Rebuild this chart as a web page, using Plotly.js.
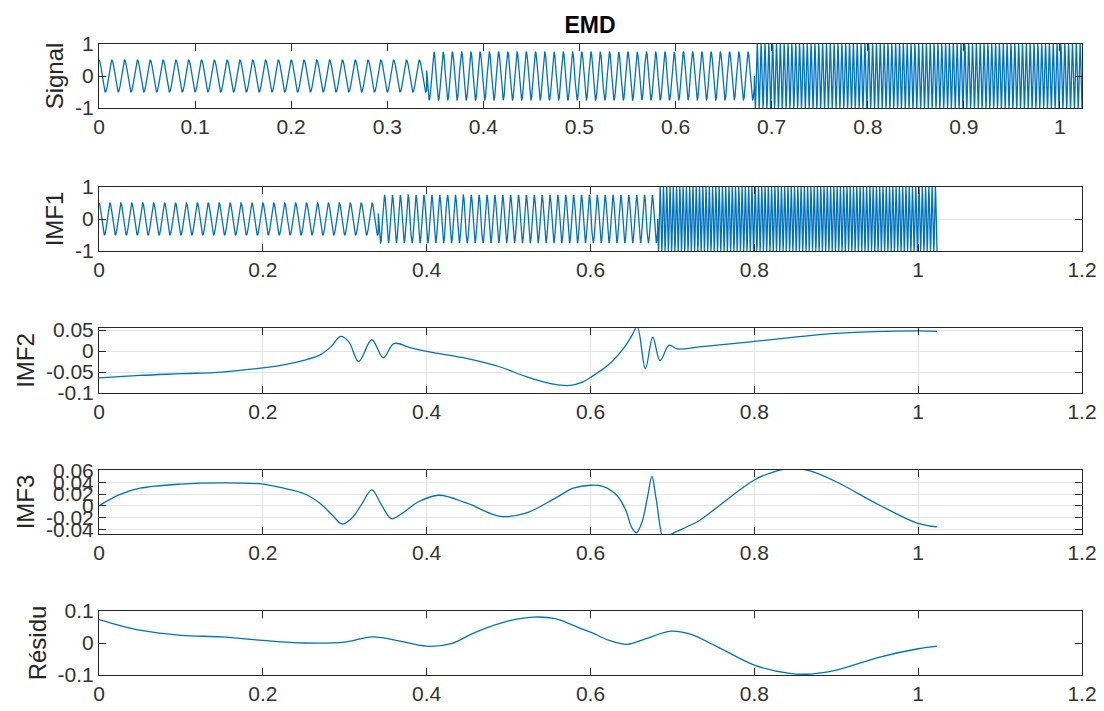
<!DOCTYPE html>
<html>
<head>
<meta charset="utf-8">
<script src="https://cdn.plot.ly/plotly-3.0.1.min.js"></script>
<style>html,body{margin:0;padding:0;background:#fff;}#chart{width:1104px;height:711px;}</style>
</head>
<body>
<div id="chart"></div>
<script>
// ---- Data ----
// Signal / IMF1: three tone segments (start time s, amplitude, frequency Hz, start phase deg)
const sampleRate = 10000;
const sampleCount = 10231;
const segStart = [0, 0.341, 0.682];
const segAmp = [0.5, 0.75, 1.0];
const segFreq = [75, 104, 250];
const segPhase = [90, 0, 0];

// IMF2 key points
const imf2X = [0, 0.05, 0.1, 0.15, 0.2, 0.225, 0.25, 0.27, 0.283, 0.295, 0.305, 0.317, 0.333, 0.347, 0.36, 0.38, 0.4, 0.45, 0.49, 0.52, 0.55, 0.575, 0.59, 0.6, 0.623, 0.641, 0.65, 0.657, 0.667, 0.676, 0.685, 0.696, 0.706, 0.733, 0.8, 0.9, 1.0, 1.023];
const imf2Y = [-0.064, -0.058, -0.054, -0.05, -0.04, -0.033, -0.022, -0.009, 0.01, 0.035, 0.022, -0.025, 0.027, -0.016, 0.018, 0.008, -0.001, -0.018, -0.038, -0.06, -0.077, -0.082, -0.074, -0.063, -0.031, 0.008, 0.035, 0.058, -0.042, 0.033, -0.023, 0.014, 0.005, 0.01, 0.023, 0.042, 0.048, 0.047];

// IMF3 key points
const imf3X = [0, 0.025, 0.05, 0.1, 0.15, 0.2, 0.225, 0.25, 0.27, 0.285, 0.297, 0.31, 0.32, 0.333, 0.345, 0.357, 0.37, 0.39, 0.415, 0.45, 0.49, 0.52, 0.557, 0.579, 0.6, 0.615, 0.632, 0.643, 0.65, 0.656, 0.663, 0.67, 0.675, 0.68, 0.69, 0.697, 0.711, 0.733, 0.755, 0.8, 0.824, 0.846, 0.869, 0.9, 0.953, 1.0, 1.023];
const imf3Y = [0.0, 0.019, 0.03, 0.037, 0.039, 0.037, 0.03, 0.021, 0.004, -0.016, -0.031, -0.019, 0.001, 0.027, 0.001, -0.022, -0.013, 0.007, 0.018, 0.004, -0.018, -0.013, 0.013, 0.03, 0.035, 0.033, 0.018, -0.007, -0.036, -0.046, -0.027, 0.018, 0.05, 0.013, -0.06, -0.05, -0.04, -0.025, -0.002, 0.044, 0.058, 0.064, 0.059, 0.041, 0.001, -0.03, -0.036];

// Residue key points
const resX = [0, 0.025, 0.05, 0.1, 0.15, 0.2, 0.25, 0.3, 0.333, 0.36, 0.4, 0.43, 0.46, 0.5, 0.53, 0.557, 0.579, 0.6, 0.623, 0.645, 0.667, 0.698, 0.72, 0.755, 0.8, 0.843, 0.869, 0.9, 0.953, 1.0, 1.023];
const resY = [0.073, 0.055, 0.04, 0.024, 0.019, 0.008, 0.0, 0.003, 0.019, 0.01, -0.01, -0.002, 0.034, 0.069, 0.081, 0.076, 0.055, 0.034, 0.008, -0.004, 0.013, 0.037, 0.029, -0.012, -0.069, -0.095, -0.097, -0.085, -0.044, -0.018, -0.01];

// Tick labels
const sigTicks = [0, 0.1, 0.2, 0.3, 0.4, 0.5, 0.6, 0.7, 0.8, 0.9, 1];
const sigTickText = ['0', '0.1', '0.2', '0.3', '0.4', '0.5', '0.6', '0.7', '0.8', '0.9', '1'];
const imfTicks = [0, 0.2, 0.4, 0.6, 0.8, 1, 1.2];
const imfTickText = ['0', '0.2', '0.4', '0.6', '0.8', '1', '1.2'];
const yTicks1 = [-1, 0, 1];
const yTickText1 = ['-1', '0', '1'];
const yTicks3 = [-0.1, -0.05, 0, 0.05];
const yTickText3 = ['-0.1', '-0.05', '0', '0.05'];
const yTicks4 = [-0.04, -0.02, 0, 0.02, 0.04, 0.06];
const yTickText4 = ['-0.04', '-0.02', '0', '0.02', '0.04', '0.06'];
const yTicks5 = [-0.1, 0, 0.1];
const yTickText5 = ['-0.1', '0', '0.1'];

// ---- Build sampled tone signal ----
const sigT = [], sigY = [];
for (let n = 0; n < sampleCount; n++) {
  const t = n / sampleRate;
  let k = 0;
  for (let s = 0; s < segStart.length; s++) if (t >= segStart[s]) k = s;
  sigT.push(t);
  sigY.push(segAmp[k] * Math.sin(2 * Math.PI * segFreq[k] * t + segPhase[k] * Math.PI / 180));
}

const lineColor = '#0072BD';
const lw = 1.3;
const font = 'Liberation Sans, Arial, Helvetica, sans-serif';
const axColor = '#262626';
const gridColor = '#e3e3e3';

const traces = [
  {x: sigT, y: sigY, xaxis: 'x', yaxis: 'y', mode: 'lines', line: {color: lineColor, width: lw}},
  {x: sigT, y: sigY, xaxis: 'x2', yaxis: 'y2', mode: 'lines', line: {color: lineColor, width: lw}},
  {x: imf2X, y: imf2Y, xaxis: 'x3', yaxis: 'y3', mode: 'lines', line: {color: lineColor, width: lw, shape: 'spline', smoothing: 1}},
  {x: imf3X, y: imf3Y, xaxis: 'x4', yaxis: 'y4', mode: 'lines', line: {color: lineColor, width: lw, shape: 'spline', smoothing: 1}},
  {x: resX, y: resY, xaxis: 'x5', yaxis: 'y5', mode: 'lines', line: {color: lineColor, width: lw, shape: 'spline', smoothing: 1}}
];

const W = 1104, H = 711;
const xDom = [99 / W, 1082 / W];
function yd(top, bottom) { return [1 - bottom / H, 1 - top / H]; }
const doms = [yd(44, 108), yd(187, 251), yd(328, 393), yd(470, 534), yd(611, 675)];

function xa(anchor, range, tv, tt, grid) {
  return {
    domain: xDom, anchor: anchor, range: range, tickvals: tv, ticktext: tt,
    ticks: 'inside', ticklen: 7, tickcolor: axColor, tickwidth: 1,
    showline: true, linecolor: axColor, linewidth: 1, mirror: 'ticks',
    showgrid: grid, gridcolor: gridColor, gridwidth: 1, zeroline: false,
    tickfont: {family: font, size: 21, color: '#333333'}, automargin: false, fixedrange: true
  };
}
function ya(anchor, dom, range, tv, tt, grid, title) {
  return {
    domain: dom, anchor: anchor, range: range, tickvals: tv, ticktext: tt,
    ticks: 'inside', ticklen: 7, tickcolor: axColor, tickwidth: 1,
    showline: true, linecolor: axColor, linewidth: 1, mirror: 'ticks',
    showgrid: grid, gridcolor: gridColor, gridwidth: 1, zeroline: false,
    tickfont: {family: font, size: 21, color: '#333333'}, automargin: false, fixedrange: true,
    title: {text: title, font: {family: font, size: 24, color: '#262626'}, standoff: 4}
  };
}

const layout = {
  width: W, height: H,
  margin: {l: 0, r: 0, t: 0, b: 0},
  paper_bgcolor: '#ffffff', plot_bgcolor: '#ffffff',
  showlegend: false, hovermode: false,
  title: {text: '<b>EMD</b>', font: {family: font, size: 23, color: '#000000'}, x: 590 / W, xanchor: 'center', y: 1 - 25 / H, yanchor: 'middle'},
  xaxis: xa('y', [0, 1.023], sigTicks, sigTickText, false),
  yaxis: ya('x', doms[0], [-1, 1], yTicks1, yTickText1, false, 'Signal'),
  xaxis2: xa('y2', [0, 1.2], imfTicks, imfTickText, true),
  yaxis2: ya('x2', doms[1], [-1, 1], yTicks1, yTickText1, true, 'IMF1'),
  xaxis3: xa('y3', [0, 1.2], imfTicks, imfTickText, true),
  yaxis3: ya('x3', doms[2], [-0.1, 0.055], yTicks3, yTickText3, true, 'IMF2'),
  xaxis4: xa('y4', [0, 1.2], imfTicks, imfTickText, true),
  yaxis4: ya('x4', doms[3], [-0.048, 0.061], yTicks4, yTickText4, true, 'IMF3'),
  xaxis5: xa('y5', [0, 1.2], imfTicks, imfTickText, false),
  yaxis5: ya('x5', doms[4], [-0.1, 0.1], yTicks5, yTickText5, false, 'Résidu')
};

Plotly.newPlot('chart', traces, layout, {displayModeBar: false, staticPlot: true});
</script>
</body>
</html>
